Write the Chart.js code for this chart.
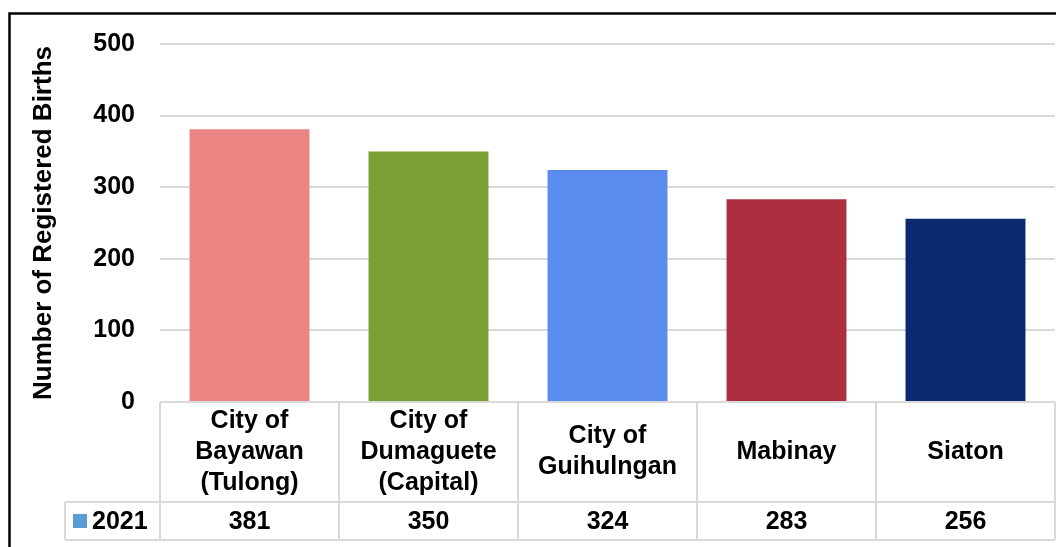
<!DOCTYPE html>
<html>
<head>
<meta charset="utf-8">
<script src="https://cdn.jsdelivr.net/npm/chart.js@4"></script>
<style>
html, body { margin: 0; padding: 0; background: #fff; }
#wrap { width: 1056px; height: 547px; position: relative; }
</style>
</head>
<body>
<div id="wrap"><canvas id="birthsChart"></canvas></div>
<script>
// data
const categories = [
  ["City of", "Bayawan", "(Tulong)"],
  ["City of", "Dumaguete", "(Capital)"],
  ["City of", "Guihulngan"],
  ["Mabinay"],
  ["Siaton"]
];
const seriesName = "2021";
const births = [381, 350, 324, 283, 256];
const barColors = ['#eb8584', '#7a9f35', '#5b8bee', '#ad2e3f', '#0b2a6f'];
const yTicks = [0, 100, 200, 300, 400, 500];

const FONT = "'Liberation Sans', Arial, sans-serif";
const gridCol = '#d9d9d9';

// draws the data table under the plot + outer frame
const tablePlugin = {
  id: 'dataTable',
  afterDraw(chart) {
    const c = chart.ctx;
    const x = chart.scales.x;
    const top = chart.chartArea.bottom;
    const mid = top + 100, bot = mid + 38;
    const catW = x.width / categories.length;
    const left = x.left, right = x.right;
    const keyLeft = 65;

    c.save();
    c.strokeStyle = gridCol;
    c.lineWidth = 2;
    c.beginPath();
    c.moveTo(left, top); c.lineTo(right, top);
    c.moveTo(keyLeft, mid); c.lineTo(right, mid);
    c.moveTo(keyLeft, bot); c.lineTo(right, bot);
    c.moveTo(keyLeft, mid); c.lineTo(keyLeft, bot);
    for (let i = 0; i <= categories.length; i++) {
      const px = left + i * catW;
      c.moveTo(px, top); c.lineTo(px, bot);
    }
    c.stroke();

    c.fillStyle = '#000';
    c.font = 'bold 25px ' + FONT;
    c.textAlign = 'center';
    c.textBaseline = 'middle';
    categories.forEach((lines, i) => {
      const cx = x.getPixelForValue(i);
      const lh = 31;
      const y0 = (top + mid) / 2 - (lines.length - 1) * lh / 2;
      lines.forEach((ln, j) => c.fillText(ln, cx, y0 + j * lh));
      c.fillText(String(births[i]), cx, (mid + bot) / 2 + 1);
    });

    // legend key
    c.fillStyle = '#5b9bd5';
    c.fillRect(73, 514, 14, 14);
    c.fillStyle = '#000';
    c.textAlign = 'left';
    c.fillText(seriesName, 92, (mid + bot) / 2 + 1);

    // chart frame
    c.strokeStyle = '#000';
    c.lineWidth = 2.5;
    c.strokeRect(9.5, 13.5, 1100, 600);
    c.restore();
  }
};

const ctx = document.getElementById('birthsChart').getContext('2d');
const birthsChart = new Chart(ctx, {
  type: 'bar',
  data: {
    labels: categories,
    datasets: [{ label: seriesName, data: births, backgroundColor: barColors, borderWidth: 0 }]
  },
  options: {
    responsive: true,
    maintainAspectRatio: false,
    animation: false,
    layout: { padding: { top: 44, bottom: 145, left: 0, right: 1 } },
    plugins: { legend: { display: false }, tooltip: { enabled: false } },
    datasets: { bar: { categoryPercentage: 1, barPercentage: 0.67 } },
    scales: {
      x: { display: false },
      y: {
        min: 0, max: 500,
        afterFit: s => { s.width = 160; },
        afterBuildTicks: s => { s.ticks = yTicks.map(v => ({ value: v })); },
        border: { display: false },
        grid: { color: gridCol, lineWidth: 2, drawTicks: false },
        ticks: { color: '#000', padding: 25, font: { family: FONT, size: 25, weight: 'bold' } },
        title: {
          display: true, text: 'Number of Registered Births', color: '#000',
          padding: { top: 28, bottom: 0 },
          font: { family: FONT, size: 26, weight: 'bold' }
        }
      }
    }
  },
  plugins: [tablePlugin]
});
</script>
</body>
</html>
